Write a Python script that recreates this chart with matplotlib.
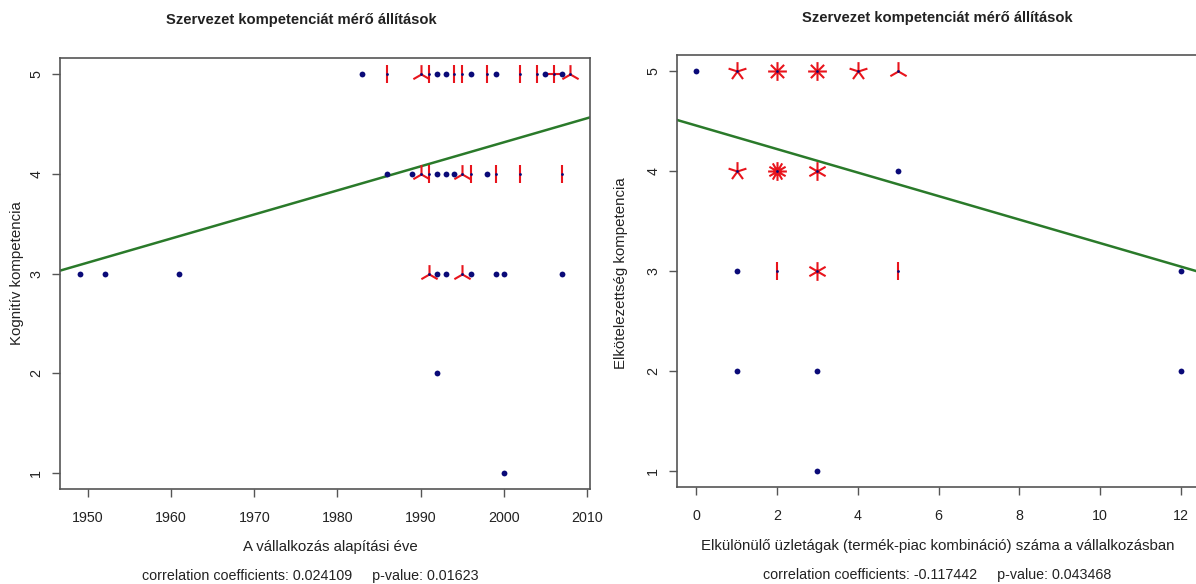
import numpy as np
import matplotlib
matplotlib.use("Agg")
import matplotlib.pyplot as plt
from matplotlib.path import Path

plt.rcParams['font.family'] = ['Liberation Sans', 'DejaVu Sans']

TITLE = "Szervezet kompetenciát mérő állítások"

# left panel: founding year vs cognitive competence (x, y, number of firms)
year_x = [1983, 1986, 1990, 1991, 1992, 1993, 1994, 1995, 1996, 1998, 1999, 2002, 2004, 2005, 2006, 2007, 2008,
          1986, 1989, 1990, 1991, 1992, 1993, 1994, 1995, 1996, 1998, 1999, 2002, 2007,
          1949, 1952, 1961, 1991, 1992, 1993, 1995, 1996, 1999, 2000, 2007,
          1992, 2000]
kog_y = [5] * 17 + [4] * 13 + [3] * 11 + [2, 1]
kog_n = [1, 2, 3, 2, 1, 1, 2, 2, 1, 2, 1, 2, 2, 1, 4, 1, 3,
         1, 1, 3, 2, 1, 1, 1, 3, 2, 1, 2, 2, 2,
         1, 1, 1, 3, 1, 1, 3, 1, 1, 1, 1,
         1, 1]
kog_slope = 0.024109
kog_intercept = -43.903

# right panel: number of business lines vs commitment competence
uzlet_x = [0, 1, 2, 3, 4, 5,
           1, 2, 3, 5,
           1, 2, 3, 5, 12,
           1, 3, 12,
           3]
elk_y = [5] * 6 + [4] * 4 + [3] * 5 + [2] * 3 + [1]
elk_n = [1, 5, 8, 8, 5, 3,
         5, 12, 6, 1,
         1, 2, 6, 2, 1,
         1, 1, 1,
         1]
elk_slope = -0.117442
elk_intercept = 4.454

W, H = 1196, 584
DOT = '#0a0a78'
PETAL = '#e8141c'
LINE = '#2a7a2a'
FRAME = '#555555'
INK = '#222222'


def petal_marker(n):
    verts, codes = [], []
    for k in range(1, n + 1):
        a = 2 * np.pi * k / n
        verts += [(0, 0), (np.sin(a), np.cos(a))]
        codes += [Path.MOVETO, Path.LINETO]
    return Path(verts, codes)


def sunflower(ax, x, y, n):
    x, y, n = np.asarray(x), np.asarray(y), np.asarray(n)
    single = n == 1
    ax.plot(x[single], y[single], 'o', color=DOT, ms=4.2, mew=0, zorder=4)
    for k in sorted(set(n[~single])):
        sel = n == k
        ax.plot(x[sel], y[sel], ls='none', marker=petal_marker(int(k)), ms=13.5,
                mec=PETAL, mfc='none', mew=1.5, zorder=3)
    ax.plot(x[~single], y[~single], 'o', color=DOT, ms=2.0, mew=0, zorder=5)


def r_limits(v):
    lo, hi = min(v), max(v)
    pad = 0.04 * (hi - lo)
    return lo - pad, hi + pad


def px_axes(fig, left, top, right, bottom):
    return fig.add_axes([left / W, 1 - bottom / H, (right - left) / W, (bottom - top) / H])


def style(ax, xticks):
    ax.set_xticks(xticks)
    ax.set_yticks([1, 2, 3, 4, 5])
    for s in ax.spines.values():
        s.set_color(FRAME)
        s.set_linewidth(1.2)
    ax.tick_params(direction='out', length=6, width=1, color=FRAME, labelsize=10.3,
                   labelcolor=INK, pad=10)
    ax.tick_params(axis='y', pad=6)
    for lab in ax.get_yticklabels():
        lab.set_rotation(90)
        lab.set_va('center')


fig = plt.figure(figsize=(W / 100, H / 100), dpi=100)

# left panel
ax1 = px_axes(fig, 60, 58, 590, 489)
sunflower(ax1, year_x, kog_y, kog_n)
xl = r_limits(year_x)
ax1.set_xlim(xl)
ax1.set_ylim(r_limits(kog_y))
xs = np.array(xl)
ax1.plot(xs, kog_intercept + kog_slope * xs, color=LINE, lw=1.8, zorder=2)
style(ax1, [1950, 1960, 1970, 1980, 1990, 2000, 2010])

# right panel, runs past the right edge of the image
ax2 = px_axes(fig, 677, 55, 1200, 487)
sunflower(ax2, uzlet_x, elk_y, elk_n)
xl = r_limits(uzlet_x)
ax2.set_xlim(xl)
ax2.set_ylim(r_limits(elk_y))
xs = np.array(xl)
ax2.plot(xs, elk_intercept + elk_slope * xs, color=LINE, lw=1.8, zorder=2)
style(ax2, [0, 2, 4, 6, 8, 10, 12])


def ptext(x, y, s, **kw):
    fig.text(x / W, 1 - y / H, s, ha='center', va='center', color=INK, **kw)


ptext(301, 20, TITLE, fontsize=10.6, fontweight='bold')
ptext(937, 18, TITLE, fontsize=10.6, fontweight='bold')
ptext(330, 547, "A vállalkozás alapítási éve", fontsize=10.8)
ptext(938, 546, "Elkülönülő üzletágak (termék-piac kombináció) száma a vállalkozásban", fontsize=10.8)
ptext(310, 576, "correlation coefficients: %.6f     p-value: %s" % (kog_slope, "0.01623"), fontsize=10.3)
ptext(937, 575, "correlation coefficients: %.6f     p-value: %s" % (elk_slope, "0.043468"), fontsize=10.3)
ptext(17, 273, "Kognitív kompetencia", fontsize=10.8, rotation=90)
ptext(621, 273, "Elkötelezettség kompetencia", fontsize=10.8, rotation=90)

fig.savefig("out.png", dpi=100, facecolor='white')
